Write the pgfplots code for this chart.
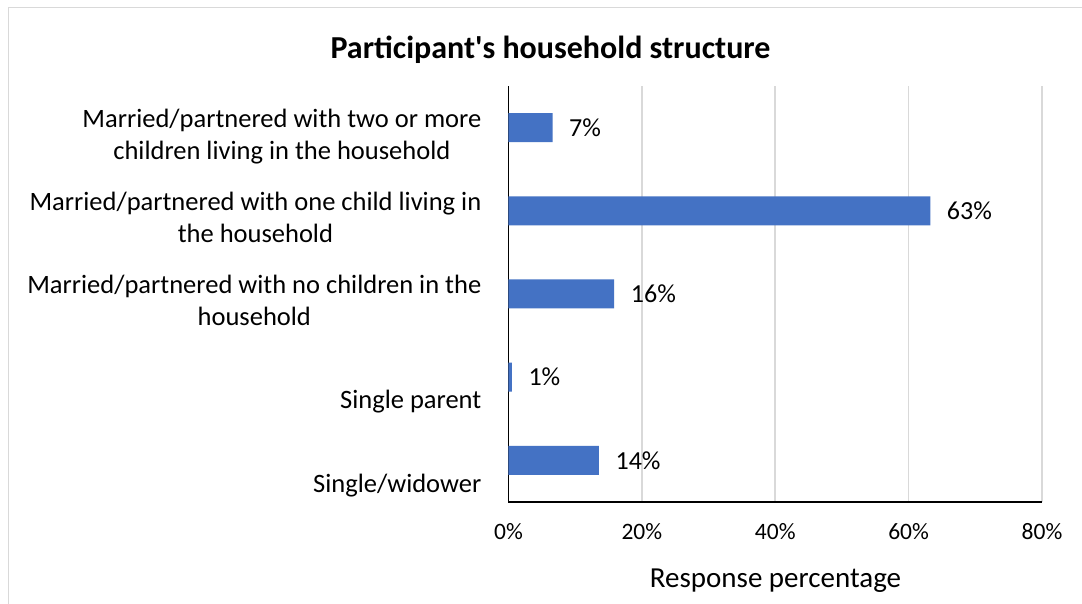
\documentclass[border=0pt]{standalone}
\usepackage{fontspec}
\setmainfont{Carlito}
\usepackage{pgfplots}
\pgfplotsset{compat=1.18}
\definecolor{barblue}{HTML}{4472C4}
\definecolor{gridgray}{HTML}{D9D9D9}
\definecolor{framegray}{HTML}{D9D9D9}
\begin{document}
\begin{tikzpicture}[x=1pt,y=1pt]
\useasboundingbox (0,0) rectangle (1082,604);
\fill[white] (0,0) rectangle (1082,604);
\draw[framegray, line width=1.5pt] (8.5,0) -- (8.5,596.5) -- (1082,596.5);
\node[font=\fontsize{32}{38}\selectfont\bfseries, anchor=base, inner sep=0pt] at (550.5,545.7) {Participant\textquotesingle s household structure};
\node[font=\fontsize{29}{35}\selectfont, anchor=base, inner sep=0pt] at (775.5,16) {Response percentage};
\begin{axis}[
  at={(508.5pt,102pt)}, anchor=south west,
  scale only axis, width=533.5pt, height=416pt,
  xmin=0, xmax=80, ymin=-0.5, ymax=4.5,
  xbar, bar width=29pt,
  axis x line*=bottom, axis y line*=left,
  axis line style={black, line width=1.5pt},
  xmajorgrids, grid style={gridgray, line width=1.5pt},
  major tick length=0pt,
  xtick={0,20,40,60,80},
  xticklabels={0\%,20\%,40\%,60\%,80\%},
  xticklabel style={font=\fontsize{23.5}{28}\selectfont, anchor=base, yshift=-38pt, inner sep=0pt},
  ytick={0,1,2,3,4},
  yticklabels={
    {\begin{tabular}[t]{@{}c@{}}\mbox{}\\Single/widower\end{tabular}},
    {\begin{tabular}[t]{@{}c@{}}\mbox{}\\Single parent\hspace{5pt}\end{tabular}},
    {\begin{tabular}[t]{@{}c@{}}Married/partnered with no children in the\\household\end{tabular}},
    {\begin{tabular}[t]{@{}c@{}}Married/partnered with one child living in\\the household\end{tabular}},
    {\begin{tabular}[t]{@{}c@{}}Married/partnered with two or more\\children living in the household\end{tabular}}
  },
  yticklabel style={font=\fontsize{26.5}{31.7}\selectfont, anchor=base east, inner sep=0pt, xshift=-27pt, yshift=0pt},
  point meta=explicit symbolic,
  nodes near coords,
  nodes near coords style={font=\fontsize{26}{31}\selectfont, anchor=west, inner sep=0pt, xshift=16.5pt, text=black},
]
\addplot[fill=barblue, draw=none] coordinates {
  (13.56,0) [14\%]
  (0.5,1) [1\%]
  (15.85,2) [16\%]
  (63.25,3) [63\%]
  (6.6,4) [7\%]
};
\end{axis}
\end{tikzpicture}
\end{document}
